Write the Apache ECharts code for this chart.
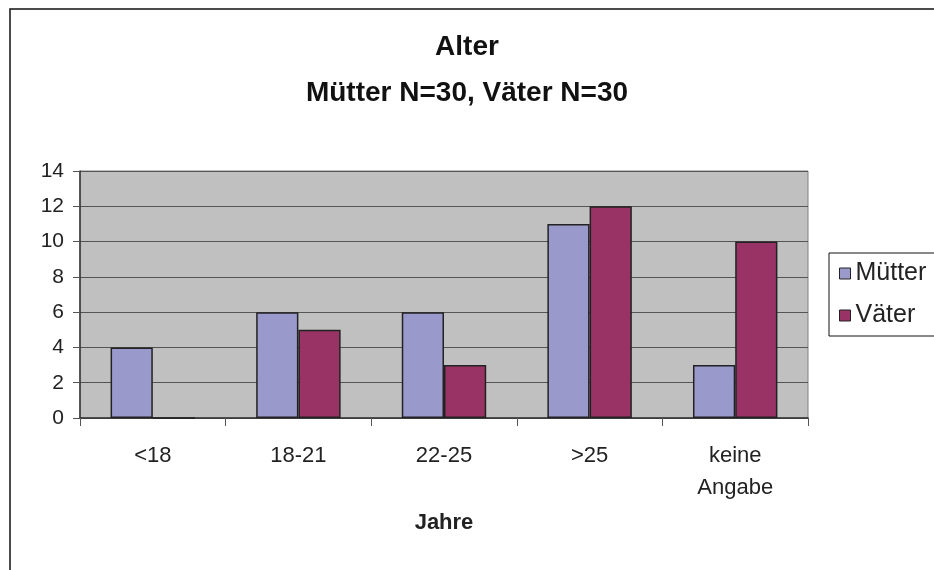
<!DOCTYPE html>
<html>
<head>
<meta charset="utf-8">
<title>Alter</title>
<script src="https://cdn.jsdelivr.net/npm/echarts@6/dist/echarts.min.js"></script>
<style>
html, body { margin: 0; padding: 0; background: #fff; }
#canvasDiv { width: 934px; height: 570px; }
</style>
</head>
<body>
<div id="canvasDiv"></div>
<script>
var TITLE_ = 'Alter\nMütter N=30, Väter N=30';
var categories = ['<18', '18-21', '22-25', '>25', 'keine\nAngabe'];
var seriesNames = ['Mütter', 'Väter'];
var muetter = [4, 6, 6, 11, 3];
var vaeter = [0, 5, 3, 12, 10];
var yTicks = [0, 2, 4, 6, 8, 10, 12, 14];

var color = ['#9999CC', '#993366'];
var FONT_ = 'Liberation Sans, Arial, sans-serif';

function barSerie(name, data, i) {
	return {
		name : name,
		type : 'bar',
		data : data,
		barGap : '0%',
		barCategoryGap : '42%',
		itemStyle : {
			color : color[i],
			borderColor : '#222',
			borderWidth : 1.5
		}
	};
}

var option = {
	animation : false,
	backgroundColor : '#fff',
	textStyle : { fontFamily : FONT_ },
	title : {
		text : TITLE_,
		left : 'center',
		top : 19,
		textStyle : {
			fontFamily : FONT_,
			fontSize : 28,
			fontWeight : 'bold',
			color : '#111',
			lineHeight : 46
		}
	},
	// aeusserer Rahmen (links und oben sichtbar)
	graphic : [{
		type : 'rect',
		shape : { x : 10, y : 9, width : 1200, height : 1000 },
		style : { fill : null, stroke : '#111', lineWidth : 1.5 },
		silent : true
	}],
	legend : {
		orient : 'vertical',
		left : 829,
		top : 253,
		data : seriesNames,
		icon : 'rect',
		itemWidth : 11,
		itemHeight : 11,
		itemGap : 17,
		padding : [8, 12, 8, 10],
		borderColor : '#111',
		borderWidth : 1,
		backgroundColor : '#fff',
		itemStyle : { borderColor : '#222', borderWidth : 1 },
		textStyle : { fontFamily : FONT_, fontSize : 25, color : '#222', lineHeight : 24 }
	},
	grid : {
		left : 80,
		top : 171,
		right : 126,
		bottom : 152,
		show : true,
		backgroundColor : '#C0C0C0',
		borderColor : '#808080',
		borderWidth : 1
	},
	xAxis : {
		type : 'category',
		data : categories,
		name : 'Jahre',
		nameLocation : 'middle',
		nameGap : 94,
		nameTextStyle : { fontFamily : FONT_, fontSize : 22, fontWeight : 'bold', color : '#222' },
		axisLine : { lineStyle : { color : '#333', width : 1.5 } },
		axisTick : { show : true, alignWithLabel : false, length : 8, lineStyle : { color : '#555' } },
		axisLabel : { fontFamily : FONT_, fontSize : 22, color : '#222', margin : 22, lineHeight : 32, interval : 0 }
	},
	yAxis : {
		type : 'value',
		min : yTicks[0],
		max : yTicks[yTicks.length - 1],
		interval : yTicks[1] - yTicks[0],
		axisLine : { show : true, lineStyle : { color : '#333', width : 1.5 } },
		axisTick : { show : true, length : 7, lineStyle : { color : '#555' } },
		axisLabel : { fontFamily : FONT_, fontSize : 21, color : '#222', margin : 16 },
		splitLine : { show : true, lineStyle : { color : '#555', width : 1 } }
	},
	series : [
		barSerie(seriesNames[0], muetter, 0),
		barSerie(seriesNames[1], vaeter, 1)
	]
};

var reportChart = echarts.init(document.getElementById('canvasDiv'));
reportChart.setOption(option);
</script>
</body>
</html>
